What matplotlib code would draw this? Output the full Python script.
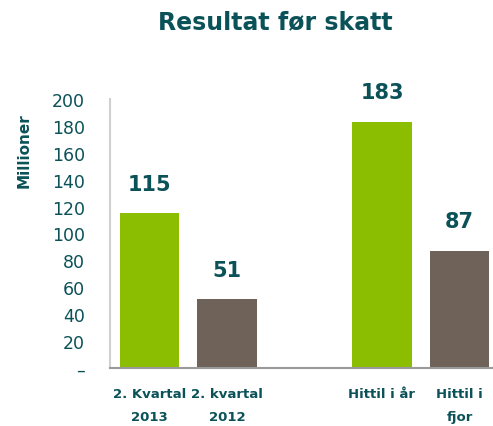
import matplotlib.pyplot as plt
from matplotlib.ticker import FuncFormatter

# Resultat før skatt, millioner
categories = ["2. Kvartal\n2013", "2. kvartal\n2012", "Hittil i år", "Hittil i\nfjor"]
values = [115, 51, 183, 87]
positions = [0, 1, 3, 4]
colors = ["#8bbd00", "#6f6359", "#8bbd00", "#6f6359"]

teal = "#0b5258"

fig = plt.figure(figsize=(4.93, 4.27), dpi=100)
ax = fig.add_axes([0.223, 0.136, 0.775, 0.63])

bars = ax.bar(positions, values, width=0.77, color=colors)

for x, v in zip(positions, values):
    ax.annotate(str(v), (x, v), xytext=(0, 14), textcoords="offset points",
                ha="center", va="bottom", fontsize=15, fontweight="bold", color=teal)

ax.set_xlim(-0.51, 4.42)
ax.set_ylim(0, 200)
ax.set_yticks(range(0, 201, 20))
ax.yaxis.set_major_formatter(FuncFormatter(lambda v, p: "–" if v == 0 else f"{int(v)}"))
ax.set_xticks(positions)
ax.set_xticklabels(categories, fontsize=9.5, fontweight="bold", color=teal, linespacing=2.0)
ax.tick_params(axis="y", length=0, labelsize=12.5, labelcolor=teal, pad=18)
ax.tick_params(axis="x", length=0, pad=14)

ax.spines["top"].set_visible(False)
ax.spines["right"].set_visible(False)
ax.spines["left"].set_color("#d0d0d0")
ax.spines["left"].set_linewidth(1.5)
ax.spines["bottom"].set_color("#9a9a9a")
ax.spines["bottom"].set_linewidth(1.5)

ax.set_ylabel("Millioner", fontsize=11, fontweight="bold", color=teal)
ax.yaxis.set_label_coords(-0.205, 0.81)
fig.suptitle("Resultat før skatt", x=0.558, y=0.975, fontsize=17, fontweight="bold", color=teal)

fig.savefig("out.png", dpi=100)
